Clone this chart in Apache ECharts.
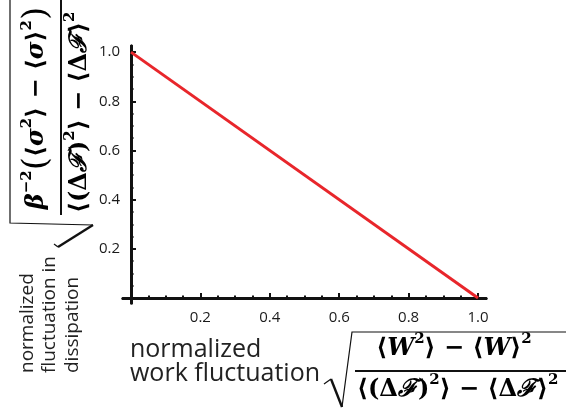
<!DOCTYPE html>
<html>
<head>
<meta charset="utf-8">
<script src="https://cdn.jsdelivr.net/npm/echarts@6/dist/echarts.min.js"></script>
<style>
  html, body { margin: 0; padding: 0; background: #fff; }
  #chart { width: 566px; height: 409px; }
</style>
</head>
<body>
<div id="chart"></div>
<script>
// the one straight line of the figure
const lineX = [0, 1];
const lineY = [1, 0];

// tick positions (same on both axes)
const majorTicks = [0.2, 0.4, 0.6, 0.8, 1.0];
const minorTicks = [0.05, 0.1, 0.15, 0.25, 0.3, 0.35, 0.45, 0.5, 0.55, 0.65, 0.7, 0.75, 0.85, 0.9, 0.95];

// axes run a little past 0 and 1 like in the figure
const xRange = [-0.023, 1.023];
const yRange = [-0.02, 1.025];

const textFont = "'Open Sans', 'Noto Sans', sans-serif";
const mathFont = "'DejaVu Serif', 'Liberation Serif', serif";

const myEcharts = echarts.init(document.getElementById('chart'));

function axis(range, ticks, len, labels, position, other) {
  return {
    type: 'value',
    position: position,
    min: range[0],
    max: range[1],
    axisLine: {
      onZero: true,
      onZeroAxisIndex: other,
      lineStyle: { color: '#111', width: 3 }
    },
    axisTick: {
      inside: true,
      length: len,
      customValues: ticks,
      lineStyle: { color: '#111', width: 2 }
    },
    axisLabel: {
      show: labels,
      customValues: ticks,
      formatter: v => v.toFixed(1),
      color: '#1a1a1a',
      fontFamily: textFont,
      fontSize: 15,
      margin: position === 'bottom' ? 7 : 3
    },
    splitLine: { show: false }
  };
}

// math pieces for the rich text labels
const mathRich = {
  a: { fontFamily: mathFont, fontSize: 24, fontWeight: 'bold', lineHeight: 34, color: '#111' },
  v: { fontFamily: mathFont, fontSize: 24, fontWeight: 'bold', fontStyle: 'italic', lineHeight: 34, color: '#111' },
  s: { fontFamily: mathFont, fontSize: 15, fontWeight: 'bold', lineHeight: 21, verticalAlign: 'top', color: '#111' },
  t: { fontFamily: mathFont, fontSize: 15, fontWeight: 'bold', lineHeight: 14, verticalAlign: 'top', color: '#111' },
  p: { fontFamily: mathFont, fontSize: 34, lineHeight: 34, color: '#111' }
};

const numW = '{a|⟨}{v|W}{s|2}{a|⟩ − ⟨}{v|W}{a|⟩}{t|2}';
const denF = '{a|⟨(Δ}{v|ℱ}{a|)}{s|2}{a|⟩ − ⟨Δ}{v|ℱ}{a|⟩}{t|2}';
const numS = '{v|β}{s|−2}{p|(}{a|⟨}{v|σ}{s|2}{a|⟩ − ⟨}{v|σ}{a|⟩}{t|2}{p|)}';

function label(x, y, text, rot, size) {
  return {
    type: 'text', x: x, y: y, rotation: rot,
    style: { text: text, fontFamily: textFont, fontSize: size, fill: '#222', align: 'left', verticalAlign: 'middle' }
  };
}
function math(x, y, text, rot, align) {
  return {
    type: 'text', x: x, y: y, rotation: rot,
    style: { text: text, rich: mathRich, align: align, verticalAlign: 'middle' }
  };
}
function stroke(points, w) {
  return { type: 'polyline', shape: { points: points }, style: { stroke: '#111', lineWidth: w, fill: null } };
}

const up = Math.PI / 2;

let option = {
  animation: false,
  grid: { left: 123, right: 80, top: 46, bottom: 106 },
  xAxis: [
    axis(xRange, majorTicks, 5, true, 'bottom', 0),
    axis(xRange, minorTicks, 2.5, false, 'bottom', 1)
  ],
  yAxis: [
    axis(yRange, majorTicks, 5, true, 'left', 0),
    axis(yRange, minorTicks, 2.5, false, 'left', 1)
  ],
  series: [{
    type: 'line',
    xAxisIndex: 0,
    yAxisIndex: 0,
    data: lineX.map((x, i) => [x, lineY[i]]),
    showSymbol: false,
    lineStyle: { color: '#e8262b', width: 3 }
  }],
  graphic: [
    // x axis title
    label(130, 350, 'normalized', 0, 25),
    label(130, 374, 'work fluctuation', 0, 25),
    stroke([[324, 384], [331, 379]], 1.2),
    stroke([[331, 379], [342, 407]], 2.4),
    stroke([[342, 407], [352, 332], [566, 332]], 1.2),
    math(454, 349, numW, 0, 'center'),
    { type: 'line', shape: { x1: 355, y1: 371, x2: 566, y2: 371 }, style: { stroke: '#111', lineWidth: 2 } },
    math(357, 390, denF, 0, 'left'),
    // y axis title
    label(28, 373, 'normalized', up, 19),
    label(50, 373, 'fluctuation in', up, 19),
    label(73, 373, 'dissipation', up, 19),
    stroke([[10, 0], [10, 223], [93, 225]], 1.2),
    stroke([[93, 225], [58, 247]], 2.4),
    stroke([[58, 247], [54, 244]], 1.2),
    math(37, 108, numS, up, 'center'),
    { type: 'line', shape: { x1: 61, y1: 0, x2: 61, y2: 215 }, style: { stroke: '#111', lineWidth: 2 } },
    math(80, 213, denF, up, 'left')
  ]
};
myEcharts.setOption(option);
</script>
</body>
</html>
